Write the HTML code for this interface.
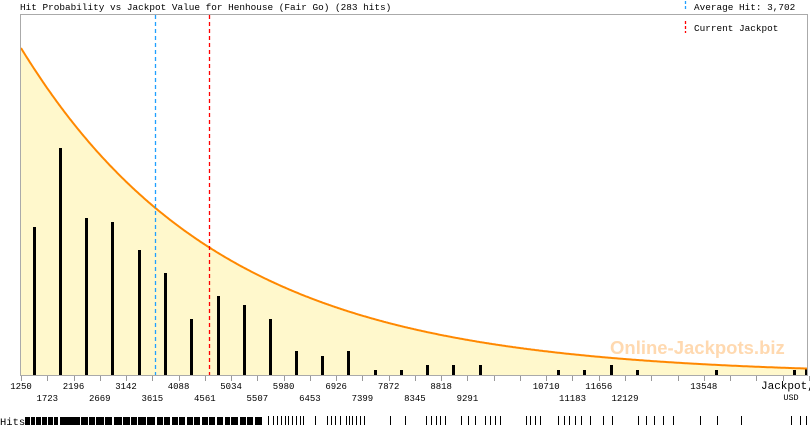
<!DOCTYPE html>
<html><head><meta charset="utf-8"><style>
html,body{margin:0;padding:0;background:#fff;}
svg{display:block;font-family:"Liberation Mono",monospace;}
</style></head><body>
<svg width="810" height="425" viewBox="0 0 810 425" xmlns="http://www.w3.org/2000/svg">
<rect width="810" height="425" fill="#fff"/>
<path id="area" d="" fill="#fff8cc"/>
<g id="bars" fill="#000"></g>
<text x="610" y="354" font-family="Liberation Sans,sans-serif" font-weight="bold" font-size="18.5" fill="#ffd9b0">Online-Jackpots.biz</text>
<path id="curve" d="" fill="none" stroke="#ff8800" stroke-width="2"/>
<line x1="155.5" y1="15" x2="155.5" y2="375" stroke="#1fa0ff" stroke-width="1.3" stroke-dasharray="4,3"/>
<line x1="209.5" y1="15" x2="209.5" y2="375" stroke="#ff0000" stroke-width="1.3" stroke-dasharray="4,3"/>
<polyline points="20.5,376 20.5,14.5 807.5,14.5 807.5,376" fill="none" stroke="#aaa" stroke-width="1"/>
<line x1="20" y1="375.5" x2="808" y2="375.5" stroke="#aaa"/>
<g id="ticks" stroke="#999"></g>
<text x="20" y="10" font-size="9.4" fill="#000">Hit Probability vs Jackpot Value for Henhouse (Fair Go) (283 hits)</text>
<line x1="685.5" y1="1" x2="685.5" y2="11" stroke="#1fa0ff" stroke-width="1.3" stroke-dasharray="3,2"/>
<text x="694" y="10" font-size="9.4" fill="#000">Average Hit: 3,702</text>
<line x1="685.5" y1="21" x2="685.5" y2="33" stroke="#ff0000" stroke-width="1.3" stroke-dasharray="3,2"/>
<text x="694" y="31" font-size="9.4" fill="#000">Current Jackpot</text>
<g font-size="9" fill="#000" text-anchor="middle" id="labels"></g>
<text x="761" y="389" font-size="11" fill="#000">Jackpot,</text>
<text x="791" y="400" font-size="8.5" text-anchor="middle" fill="#000">USD</text>
<text x="0" y="425" font-size="10.5" fill="#000">Hits</text>
<rect x="25" y="417" width="237" height="8" fill="#000"/>
<g fill="#fff"><rect x="30" y="417" width="1" height="8"/><rect x="35" y="417" width="1" height="8"/><rect x="41" y="417" width="1" height="8"/><rect x="47" y="417" width="1" height="8"/><rect x="53" y="417" width="1" height="8"/><rect x="58" y="417" width="2" height="8"/><rect x="80" y="417" width="1" height="8"/><rect x="88" y="417" width="1" height="8"/><rect x="95" y="417" width="1" height="8"/><rect x="104" y="417" width="1" height="8"/><rect x="112" y="417" width="2" height="8"/><rect x="122" y="417" width="1" height="8"/><rect x="130" y="417" width="1" height="8"/><rect x="137" y="417" width="1" height="8"/><rect x="146" y="417" width="1" height="8"/><rect x="155" y="417" width="2" height="8"/><rect x="163" y="417" width="1" height="8"/><rect x="170" y="417" width="2" height="8"/><rect x="178" y="417" width="1" height="8"/><rect x="185" y="417" width="2" height="8"/><rect x="193" y="417" width="1" height="8"/><rect x="200" y="417" width="2" height="8"/><rect x="208" y="417" width="1" height="8"/><rect x="215" y="417" width="2" height="8"/><rect x="223" y="417" width="2" height="8"/><rect x="230" y="417" width="1" height="8"/><rect x="238" y="417" width="2" height="8"/><rect x="246" y="417" width="1" height="8"/><rect x="253" y="417" width="2" height="8"/></g>
<g id="hits" stroke="#000"></g>
<script>
var ns="http://www.w3.org/2000/svg";
function f(x){return 375-327*Math.exp(-0.005*(x-21));}
var d="M21,"+f(21),a="M21,375 L21,"+f(21);
for(var x=22;x<=807;x++){d+=" L"+x+","+f(x).toFixed(1);a+=" L"+x+","+f(x).toFixed(1);}
a+=" L807,375 Z";
document.getElementById("curve").setAttribute("d",d);
document.getElementById("area").setAttribute("d",a);
var bars=[[34,227],[60,148],[86,218],[112,222],[139,250],[165,273],[191,319],[218,296],[244,305],[270,319],[296,351],[322,356],[348,351],[375,370],[401,370],[427,365],[453,365],[480,365],[558,370],[584,370],[611,365],[637,370],[716,370],[794,370],[806,368]];
var g=document.getElementById("bars");
bars.forEach(function(b){var r=document.createElementNS(ns,"rect");r.setAttribute("x",b[0]-1);r.setAttribute("y",b[1]);r.setAttribute("width",3);r.setAttribute("height",375-b[1]);g.appendChild(r);});
var t=document.getElementById("ticks"),L=document.getElementById("labels");
for(var i=0;i<=30;i++){var x=21+i*26.26;var l=document.createElementNS(ns,"line");l.setAttribute("x1",Math.round(x)+.5);l.setAttribute("x2",Math.round(x)+.5);l.setAttribute("y1",376);l.setAttribute("y2",381);t.appendChild(l);}
var labs=[[1250,1],[1723,2],[2196,1],[2669,2],[3142,1],[3615,2],[4088,1],[4561,2],[5034,1],[5507,2],[5980,1],[6453,2],[6926,1],[7399,2],[7872,1],[8345,2],[8818,1],[9291,2],[10710,1],[11183,2],[11656,1],[12129,2],[13548,1]];
labs.forEach(function(p){var x=21+(p[0]-1250)*0.05552;var e=document.createElementNS(ns,"text");e.setAttribute("x",x);e.setAttribute("y",p[1]==1?389:401);e.textContent=p[0];L.appendChild(e);});
var hx=[268,273,277,281,285,288,292,296,300,303,315,327,331,335,340,346,349,352,356,360,364,390,405,426,431,436,440,445,461,468,475,485,490,495,500,526,530,535,540,558,564,569,575,581,590,603,612,638,646,654,663,673,700,717,741,791,800,806];
var H=document.getElementById("hits");
hx.forEach(function(x){var l=document.createElementNS(ns,"line");l.setAttribute("x1",x+.5);l.setAttribute("x2",x+.5);l.setAttribute("y1",416);l.setAttribute("y2",425);H.appendChild(l);});
</script>
</svg>
</body></html>
